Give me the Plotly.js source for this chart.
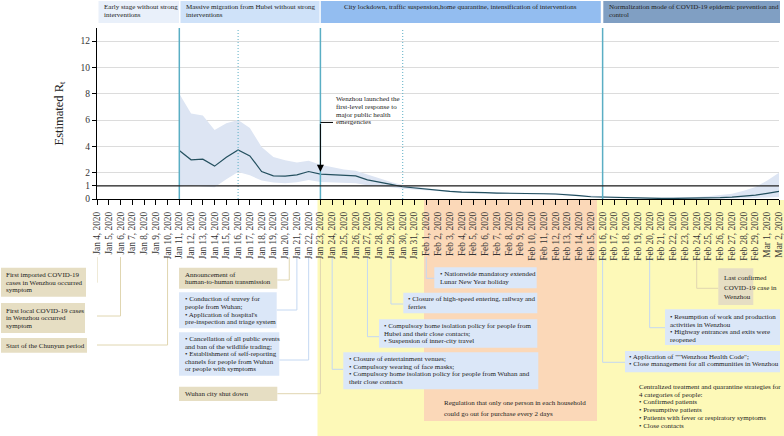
<!DOCTYPE html>
<html><head><meta charset="utf-8">
<script src="https://cdn.plot.ly/plotly-3.0.1.min.js"></script>
<style>html,body{margin:0;padding:0;background:#fff}</style>
</head><body>
<div id="chart" style="width:784px;height:436px"></div>
<script>
// ---------- data ----------
const dates = ["Jan 4, 2020","Jan 5, 2020","Jan 6, 2020","Jan 7, 2020","Jan 8, 2020","Jan 9, 2020","Jan 10, 2020",
"Jan 11, 2020","Jan 12, 2020","Jan 13, 2020","Jan 14, 2020","Jan 15, 2020","Jan 16, 2020","Jan 17, 2020","Jan 18, 2020",
"Jan 19, 2020","Jan 20, 2020","Jan 21, 2020","Jan 22, 2020","Jan 23, 2020","Jan 24, 2020","Jan 25, 2020","Jan 26, 2020",
"Jan 27, 2020","Jan 28, 2020","Jan 29, 2020","Jan 30, 2020","Jan 31, 2020","Feb 1, 2020","Feb 2, 2020","Feb 3, 2020",
"Feb 4, 2020","Feb 5, 2020","Feb 6, 2020","Feb 7, 2020","Feb 8, 2020","Feb 9, 2020","Feb 10, 2020","Feb 11, 2020",
"Feb 12, 2020","Feb 13, 2020","Feb 14, 2020","Feb 15, 2020","Feb 16, 2020","Feb 17, 2020","Feb 18, 2020","Feb 19, 2020",
"Feb 20, 2020","Feb 21, 2020","Feb 22, 2020","Feb 23, 2020","Feb 24, 2020","Feb 25, 2020","Feb 26, 2020","Feb 27, 2020",
"Feb 28, 2020","Feb 29, 2020","Mar 1, 2020","Mar 2, 2020"];
const rtDates = dates.slice(7); // Jan 11 .. Mar 2
const rtMean = [3.68,2.98,3.03,2.50,3.18,3.73,3.28,2.09,1.76,1.74,1.84,2.09,1.89,1.84,1.76,1.76,1.46,1.31,1.11,0.93,0.83,
0.73,0.63,0.58,0.53,0.48,0.48,0.45,0.45,0.43,0.40,0.40,0.38,0.33,0.25,0.17,0.14,0.11,0.08,0.05,0.04,0.04,0.04,0.05,0.06,
0.08,0.11,0.15,0.22,0.30,0.43,0.58];
const rtUpper = [8.0,6.5,6.35,5.25,5.75,6.0,5.4,3.95,3.2,2.95,2.78,2.9,2.6,2.4,2.25,2.15,1.85,1.6,1.3,1.07,0.93,
0.82,0.71,0.65,0.60,0.55,0.54,0.51,0.51,0.49,0.46,0.46,0.44,0.39,0.31,0.23,0.20,0.17,0.13,0.10,0.09,0.09,0.10,0.12,0.15,
0.20,0.28,0.40,0.62,0.92,1.40,2.00];
const rtLower = [0.95,1.05,0.95,0.90,1.50,2.05,1.80,1.40,1.25,1.20,1.28,1.45,1.30,1.25,1.20,1.20,1.05,0.98,0.90,0.78,0.72,
0.64,0.55,0.51,0.46,0.42,0.42,0.39,0.39,0.37,0.34,0.34,0.32,0.27,0.20,0.12,0.09,0.06,0.04,0.02,0.01,0.01,0.01,0.01,0.01,
0.02,0.03,0.04,0.06,0.08,0.11,0.15];
const yTicks = [0,1,2,4,6,8,10,12];
const phaseTitles = [
  ["Early stage without strong","interventions"],
  ["Massive migration from Hubei without strong","interventions"],
  ["City lockdown, traffic suspension,home quarantine, intensification of interventions"],
  ["Normalization mode of COVID-19 epidemic prevention and","control"]];
const phaseStarts = ["Jan 11, 2020","Jan 23, 2020","Feb 16, 2020"];
const dottedMarks = ["Jan 16, 2020","Jan 30, 2020"];
const responseDate = "Jan 23, 2020";
const responseText = ["Wenzhou launched the","first-level response to","major public health","emergencies"];
const eventDates = ["Jan 4, 2020","Jan 6, 2020","Jan 10, 2020","Jan 20, 2020","Jan 21, 2020","Jan 22, 2020","Jan 23, 2020",
  "Feb 1, 2020","Jan 29, 2020","Jan 27, 2020","Jan 24, 2020","Feb 24, 2020","Feb 20, 2020","Feb 16, 2020"];
const eventKinds = ["case","case","case","case","measure","measure","case","measure","measure","measure","measure","case","measure","measure"];
const eventTexts = [
  ["First imported COVID-19","cases in Wenzhou occurred","symptom"],
  ["First local COVID-19 cases","in Wenzhou occurred","symptom"],
  ["Start of the Chunyun period"],
  ["Announcement of","human-to-human transmission"],
  ["• Conduction of sruvey for","people from Wuhan;","• Application of hospital's","pre-inspection and triage system"],
  ["• Cancellation of all public events","and ban of the wildlife trading;","• Establishment of self-reporting","chanels for people from Wuhan","or people with symptoms"],
  ["Wuhan city shut down"],
  ["• Nationwide mandatory extended","Lunar New Year holiday"],
  ["• Closure of high-speed entering, railway and","ferries"],
  ["• Compulsory home isolation policy for people from","Hubei and their close contacts;","• Suspension of inner-city travel"],
  ["• Closure of entertainment venues;","• Compulsory wearing of face masks;","• Compulsory home isolation policy for people from Wuhan and","their close contacts"],
  ["Last confirmed","COVID-19 case in","Wenzhou"],
  ["• Resumption of work and production","activities in Wenzhou","• Highway entrances and exits were","reopened"],
  ["• Application of \"\"Wenzhou Health Code\";","• Close management for all communities in Wenzhou"]];
const regulationText = ["Regulation that only one person in each household","could go out for purchase every 2 days"];
const centralizedText = ["Centralized treatment and quarantine strategies for","4 categories of people:","• Confirmed patients",
  "• Presumptive patients","• Patients with fever or respiratory symptoms","• Close contacts"];

// ---------- layout helpers ----------
const FONT = 'Liberation Serif, "Times New Roman", serif';
const W=784, H=436, ML=97, MR=5, MT=28, MB=237;
const PW=W-ML-MR, PH=H-MT-MB;
const xp = px => (px-ML)/PW;
const yp = py => (H-MB-py)/PH;
const NCAT = dates.length-1;
const xi = px => (px-ML)/PW*NCAT;
const di = d => dates.indexOf(d);

const COL = {case:'#e6dec3', measure:'#dbe7f8'};
const LINECOL = {case:'#e0d6b0', measure:'#c4d8f2'};
const shapes = [], annotations = [];

function rectPx(x0,y0,x1,y1,fill,layer){
  shapes.push({type:'rect',xref:'paper',yref:'paper',x0:xp(x0),x1:xp(x1),y0:yp(y0),y1:yp(y1),
    fillcolor:fill,line:{width:0},layer:layer||'below'});
}
function linesPx(lines,x,y0,dy,opts){
  opts=opts||{};
  lines.forEach((t,i)=>annotations.push({xref:'paper',yref:'paper',x:xp(x),y:yp(y0+i*dy),
    xanchor:opts.anchor||'left',yanchor:'middle',text:t,showarrow:false,
    font:{family:FONT,size:opts.size||7,color:'#222'}}));
}

// backgrounds below axis
rectPx(317.5,200,784,436,'#fdf9b8');
rectPx(424,200,597,421,'#fbd8b8');

// phase header bars
const hdr = [[98.5,179,'#e9f0fa'],[180.5,319.5,'#cfe2f9'],[320.8,600.8,'#93bdf0'],[603.3,780,'#809fc3']];
hdr.forEach(h=>rectPx(h[0],1,h[1],23,h[2]));
linesPx(phaseTitles[0],101.5,7.5,8);
linesPx(phaseTitles[1],183.5,7.5,8);
linesPx(phaseTitles[2],460.8,7.5,8,{anchor:'center'});
linesPx(phaseTitles[3],606.5,7.5,8);

// event boxes: [x0,y0,x1,y1, textX, firstLineY, lineStep, connectorY, side]
const boxGeom = [
  [1,267.7,86,296.7, 4,275,7.6, 282.7,'L'],
  [1,303,85,333, 4,310.7,7.6, 316,'L'],
  [1,338,87,352.7, 4,345.5,7.6, 345,'L'],
  [179,267.7,277.3,288.7, 182.7,274.5,7.6, 280,'L'],
  [179,292.3,276.7,328.3, 182.7,299.3,7.7, 310,'L'],
  [179,332.3,279.3,375.7, 182.7,339.3,7.5, 360,'L'],
  [179,386.7,277.3,401, 182.7,394,7.6, 393.7,'L'],
  [434.3,267.3,536.7,288.3, 437.7,273.6,8, 278.3,'R'],
  [403.3,292.7,537.3,313.3, 406,299.3,8, 304,'R'],
  [379,319.3,537.3,347.7, 381.7,326,7.7, 336.7,'R'],
  [343.3,352.3,538.3,389.3, 346.7,359,7.6, 369.3,'R'],
  [718.3,268.3,753.3,305, 721.7,277.7,9.8, 288.3,'R'],
  [665,309.3,780,345, 668.3,317.3,7.5, 327.7,'R'],
  [625,351,780,372.3, 626.7,356.7,7.5, 362.3,'R']];
const connectorOffset = {3:0.35};
eventDates.forEach((d,k)=>{
  const g = boxGeom[k], kind = eventKinds[k];
  const xIdx = di(d) + (connectorOffset[k]||0);
  const edge = g[8]==='L' ? g[2] : g[0];
  shapes.push({type:'line',xref:'x',yref:'paper',x0:xIdx,x1:xIdx,y0:yp(257),y1:yp(g[7]),line:{color:LINECOL[kind],width:1},layer:'below'});
  shapes.push({type:'line',xref:'x',yref:'paper',x0:xIdx,x1:xi(edge),y0:yp(g[7]),y1:yp(g[7]),line:{color:LINECOL[kind],width:1},layer:'below'});
});
eventDates.forEach((d,k)=>{
  const g = boxGeom[k];
  rectPx(g[0],g[1],g[2],g[3],COL[eventKinds[k]]);
  linesPx(eventTexts[k],g[4],g[5],g[6]);
});
linesPx(regulationText,441.7,403.3,10.7);
linesPx(centralizedText,637.3,387,7.7);

// vertical phase lines
phaseStarts.forEach(d=>shapes.push({type:'line',xref:'x',yref:'paper',x0:di(d),x1:di(d),y0:0,y1:1,
  line:{color:'#5aaec4',width:1.5},layer:'above'}));
dottedMarks.forEach(d=>shapes.push({type:'line',xref:'x',yref:'paper',x0:di(d),x1:di(d),y0:0,y1:1,
  line:{color:'#5aaec4',width:1,dash:'1px,2px'},layer:'above'}));
// reference line R=1
shapes.push({type:'line',xref:'paper',yref:'y',x0:0,x1:1,y0:1,y1:1,line:{color:'#222',width:1.2},layer:'above'});

// response arrow
const arrowTailY = 5.82;
shapes.push({type:'line',xref:'x',yref:'y',x0:di(responseDate),x1:xi(333),y0:arrowTailY,y1:arrowTailY,
  line:{color:'#000',width:1},layer:'above'});
annotations.push({xref:'x',yref:'y',x:di(responseDate),y:2.08,axref:'x',ayref:'y',ax:di(responseDate),ay:arrowTailY,
  text:'',showarrow:true,arrowhead:2,arrowsize:1.4,arrowwidth:1,arrowcolor:'#000',standoff:0});
linesPx(responseText,333.5,99.2,7.7);

// ---------- traces ----------
const traces = [
  {x:dates,y:dates.map(()=>null),mode:'lines',showlegend:false,hoverinfo:'skip'},
  {x:rtDates,y:rtLower,mode:'lines',line:{width:0,color:'rgba(0,0,0,0)'},showlegend:false,hoverinfo:'skip'},
  {x:rtDates,y:rtUpper,mode:'lines',line:{width:0,color:'rgba(0,0,0,0)'},fill:'tonexty',fillcolor:'#dde5f3',showlegend:false,hoverinfo:'skip'},
  {x:rtDates,y:rtMean,mode:'lines',line:{color:'#24505f',width:1.2},showlegend:false}
];

const layout = {
  width:W,height:H,margin:{l:ML,r:MR,t:MT,b:MB,pad:0},
  paper_bgcolor:'#fff',plot_bgcolor:'#fff',showlegend:false,
  font:{family:FONT,color:'#333'},
  xaxis:{type:'category',categoryorder:'array',categoryarray:dates,range:[0,NCAT],
    showgrid:false,zeroline:false,showline:true,linecolor:'#000',linewidth:1.2,
    ticks:'outside',ticklen:5,tickwidth:1,tickcolor:'#000',tickangle:-90,ticklabelstandoff:3,
    tickfont:{family:FONT,size:9.3,color:'#333'},automargin:false},
  yaxis:{range:[0,13],tickvals:yTicks,ticktext:yTicks.map(String),showgrid:true,gridcolor:'#dcdcdc',gridwidth:1,
    zeroline:false,showline:true,linecolor:'#000',linewidth:1.2,ticks:'outside',ticklen:4,tickwidth:1,tickcolor:'#000',
    tickfont:{family:FONT,size:9.5,color:'#333'},automargin:false,
    title:{text:'Estimated R<sub>t</sub>',font:{family:FONT,size:12.5,color:'#222'},standoff:14}},
  shapes:shapes,annotations:annotations
};
Plotly.newPlot('chart',traces,layout,{displayModeBar:false,staticPlot:true});
</script>
</body></html>
